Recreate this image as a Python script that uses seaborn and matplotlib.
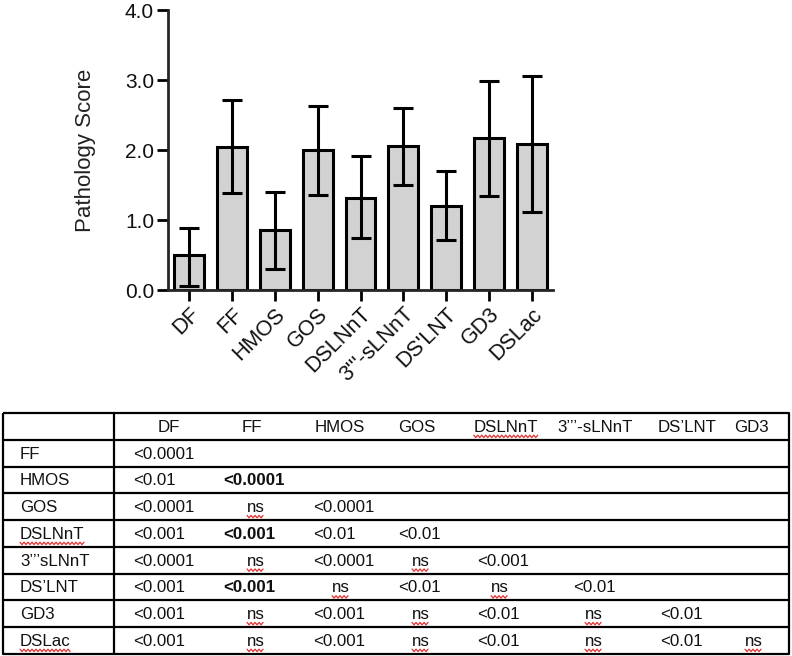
import numpy as np
import pandas as pd
import matplotlib
matplotlib.use("Agg")
import matplotlib.pyplot as plt
import seaborn as sns

# ---------------- data ----------------
categories = ["DF", "FF", "HMOS", "GOS", "DSLNnT", "3'''-sLNnT", "DS'LNT", "GD3", "DSLac"]
means = [0.50, 2.05, 0.86, 2.00, 1.32, 2.06, 1.20, 2.17, 2.08]
err_lower = [0.06, 1.38, 0.30, 1.36, 0.74, 1.50, 0.71, 1.34, 1.11]
err_upper = [0.89, 2.72, 1.40, 2.63, 1.92, 2.60, 1.70, 2.99, 3.06]
y_ticks = [0.0, 1.0, 2.0, 3.0, 4.0]
y_label = "Pathology Score"

table_header = ["DF", "FF", "HMOS", "GOS", "DSLNnT", "3\u2019\u2019\u2019-sLNnT", "DS\u2019LNT", "GD3"]
table_rows = ["FF", "HMOS", "GOS", "DSLNnT", "3\u2019\u2019\u2019sLNnT", "DS\u2019LNT", "GD3", "DSLac"]
table_cells = [
    ["<0.0001"],
    ["<0.01", "<0.0001"],
    ["<0.0001", "ns", "<0.0001"],
    ["<0.001", "<0.001", "<0.01", "<0.01"],
    ["<0.0001", "ns", "<0.0001", "ns", "<0.001"],
    ["<0.001", "<0.001", "ns", "<0.01", "ns", "<0.01"],
    ["<0.001", "ns", "<0.001", "ns", "<0.01", "ns", "<0.01"],
    ["<0.001", "ns", "<0.001", "ns", "<0.01", "ns", "<0.01", "ns"],
]
bold_cells = [(1, 1), (3, 1), (5, 1)]
misspelled = ["ns", "DSLNnT", "DSLac"]

# ---------------- style ----------------
sns.set_theme(style="ticks")
plt.rcParams["font.family"] = ["Liberation Sans", "DejaVu Sans"]
plt.rcParams["axes.linewidth"] = 2.0

W, H = 792, 656
fig = plt.figure(figsize=(W / 100, H / 100), dpi=100)

# ---------------- bar chart ----------------
ax_l, ax_r, ax_t, ax_b = 168, 553, 10, 290
ax = fig.add_axes([ax_l / W, 1 - ax_b / H, (ax_r - ax_l) / W, (ax_b - ax_t) / H])
df = pd.DataFrame({"group": categories, "score": means})
sns.barplot(data=df, x="group", y="score", color="#d2d2d2", saturation=1,
            edgecolor="black", linewidth=2.2, width=0.7, errorbar=None, ax=ax)
m = np.array(means)
yerr = [m - np.array(err_lower), np.array(err_upper) - m]
ax.errorbar(np.arange(len(categories)), m, yerr=yerr, fmt="none", ecolor="black",
            elinewidth=2.2, capsize=7.5, capthick=2.2, zorder=5)
ax.set_xlim(-0.5, len(categories) - 0.5)
ax.set_ylim(0, 4.0)
ax.set_yticks(y_ticks)
ax.set_yticklabels([f"{v:.1f}" for v in y_ticks])
ax.set_xlabel("")
ax.set_ylabel(y_label, fontsize=16, color="#222222")
ax.yaxis.set_label_coords((96 - ax_l) / (ax_r - ax_l), 0.5)
sns.despine(ax=ax)
ax.tick_params(axis="both", length=8, width=2, color="black", pad=2)
ax.tick_params(axis="y", labelsize=15, labelcolor="#111111")
ax.tick_params(axis="x", labelsize=15.5, labelcolor="#111111")
for lab in ax.get_xticklabels():
    lab.set_rotation(45)
    lab.set_ha("right")
    lab.set_va("top")
    lab.set_rotation_mode("anchor")
ax.set_facecolor("white")

# ---------------- table ----------------
tab = fig.add_axes([0, 0, 1, 1])
tab.set_xlim(0, W)
tab.set_ylim(H, 0)
tab.axis("off")

t_left, t_right, t_top = 3, 789, 413
row_h = 26.75
n_lines = len(table_rows) + 1
t_bot = t_top + n_lines * row_h
first_col = 114
header_x = [169, 252, 340, 417, 506, 595, 687, 751]
value_left = [133, 223, 313, 398, 477, 573, 660, 735]
ns_center = [160, 256, 341, 421, 500, 594, 683, 754]
label_left = 20
fs = 12.2

lw = 1.6
tab.plot([t_left, t_right, t_right, t_left, t_left], [t_top, t_top, t_bot, t_bot, t_top],
         color="black", lw=lw, solid_capstyle="butt")
for i in range(1, n_lines):
    y = t_top + i * row_h
    tab.plot([t_left, t_right], [y, y], color="black", lw=lw)
tab.plot([first_col, first_col], [t_top, t_bot], color="black", lw=lw)

texts_to_mark = []
for j, h in enumerate(table_header):
    t = tab.text(header_x[j], t_top + row_h / 2 + 1, h, ha="center", va="center",
                 fontsize=fs, color="#111111")
    if h in misspelled:
        texts_to_mark.append(t)
for i, r in enumerate(table_rows):
    yc = t_top + (i + 1) * row_h + row_h / 2 + 1
    t = tab.text(label_left, yc, r, ha="left", va="center", fontsize=fs, color="#111111")
    if r in misspelled:
        texts_to_mark.append(t)
    for j, v in enumerate(table_cells[i]):
        bold = (i, j) in bold_cells
        if v == "ns":
            t = tab.text(ns_center[j], yc, v, ha="center", va="center", fontsize=fs,
                         color="#111111")
            texts_to_mark.append(t)
        else:
            tab.text(value_left[j], yc, v, ha="left", va="center", fontsize=fs,
                     color="#111111", fontweight="bold" if bold else "normal")

# red spell-check squiggles
fig.canvas.draw()
renderer = fig.canvas.get_renderer()
for t in texts_to_mark:
    bb = t.get_window_extent(renderer)
    x0, x1 = bb.x0, bb.x1
    ybase = H - bb.y0 + 1.5
    xs = np.arange(x0, x1 + 0.1, 2.0)
    ys = ybase + np.where(np.arange(len(xs)) % 2 == 0, -1.2, 1.2)
    tab.plot(xs, ys, color="#e03030", lw=0.9)

fig.savefig("out.png", dpi=100, facecolor="white")
